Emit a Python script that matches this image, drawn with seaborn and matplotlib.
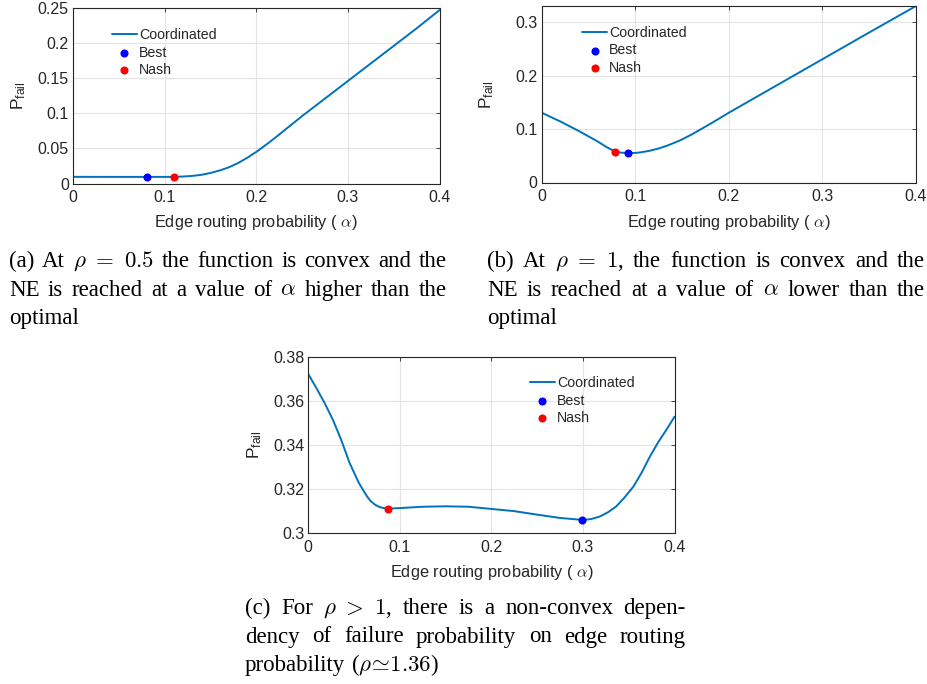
import re
import numpy as np
import pandas as pd
import matplotlib
matplotlib.use('Agg')
import matplotlib.pyplot as plt
import seaborn as sns

# ---- data ----
# (a) rho = 0.5
alpha_a = [0, 0.05, 0.1, 0.11, 0.12, 0.13, 0.14, 0.15, 0.16, 0.17, 0.18, 0.19,
           0.2, 0.21, 0.22, 0.23, 0.25, 0.275, 0.3, 0.325, 0.35, 0.375, 0.4]
pfail_a = [0.0095, 0.0094, 0.0094, 0.0095, 0.0099, 0.0108, 0.0123, 0.0150,
           0.0185, 0.0230, 0.0290, 0.0365, 0.045, 0.0545, 0.0645, 0.0750,
           0.0960, 0.121, 0.146, 0.171, 0.196, 0.221, 0.247]
best_a = (0.081, 0.0094)
nash_a = (0.110, 0.0095)

# (b) rho = 1
alpha_b = [0, 0.02, 0.04, 0.06, 0.07, 0.0786, 0.085, 0.092, 0.1, 0.105, 0.115,
           0.125, 0.135, 0.1476, 0.16, 0.18, 0.2, 0.25, 0.3, 0.35, 0.4]
pfail_b = [0.1305, 0.114, 0.096, 0.0765, 0.0655, 0.0578, 0.0558, 0.0551,
           0.0553, 0.0562, 0.0592, 0.0636, 0.0695, 0.0785, 0.0895, 0.1095,
           0.1305, 0.1805, 0.2305, 0.2805, 0.3300]
best_b = (0.0918, 0.0551)
nash_b = (0.0786, 0.0578)

# (c) rho ~ 1.36
alpha_c = [0, 0.009, 0.018, 0.027, 0.036, 0.045, 0.055, 0.06, 0.064, 0.068,
           0.073, 0.077, 0.082, 0.091, 0.1, 0.125, 0.15, 0.175, 0.2, 0.225,
           0.25, 0.275, 0.3, 0.309, 0.318, 0.327, 0.336, 0.345, 0.355, 0.364,
           0.373, 0.382, 0.391, 0.4]
pfail_c = [0.3721, 0.3656, 0.3588, 0.3512, 0.3421, 0.3318, 0.3228, 0.3193,
           0.3166, 0.3144, 0.3127, 0.3118, 0.3112, 0.3110, 0.3112, 0.3118,
           0.3120, 0.3118, 0.3108, 0.3098, 0.3082, 0.3067, 0.3058, 0.3062,
           0.3073, 0.3092, 0.3118, 0.3158, 0.3209, 0.3272, 0.3345, 0.3410,
           0.3467, 0.3527]
best_c = (0.2985, 0.3058)
nash_c = (0.0873, 0.3110)

xticks = [0, 0.1, 0.2, 0.3, 0.4]
yticks_a = [0, 0.05, 0.1, 0.15, 0.2, 0.25]
yticks_b = [0, 0.1, 0.2, 0.3]
yticks_c = [0.3, 0.32, 0.34, 0.36, 0.38]

captions = {
    'a': [r'(a) At $\rho\ =\ 0.5$ the function is convex and the',
          r'NE is reached at a value of $\alpha$ higher than the',
          r'optimal'],
    'b': [r'(b) At $\rho\ =\ 1$, the function is convex and the',
          r'NE is reached at a value of $\alpha$ lower than the',
          r'optimal'],
    'c': [r'(c) For $\rho\ >\ 1$, there is a non-convex depen-',
          r'dency of failure probability on edge routing',
          r'probability ($\rho\!\simeq\!1.36$)'],
}

sns.set_theme(style='white')
plt.rcParams['font.family'] = ['Liberation Sans', 'DejaVu Sans']
plt.rcParams['mathtext.fontset'] = 'cm'

W, H = 927, 684
fig = plt.figure(figsize=(W / 100, H / 100), dpi=100)
dark = '#262626'


def px_axes(left, right, top, bottom):
    return fig.add_axes([left / W, 1 - bottom / H, (right - left) / W, (bottom - top) / H])


def draw_panel(ax, alpha, pfail, best, nash, yticks, ylim, leg_xy):
    df = pd.DataFrame({'alpha': alpha, 'pfail': pfail})
    sns.lineplot(data=df, x='alpha', y='pfail', ax=ax, color='#0072BD',
                 linewidth=1.4, label='Coordinated')
    sns.scatterplot(x=[best[0]], y=[best[1]], ax=ax, color='#0000FF', s=34,
                    linewidth=0, label='Best', zorder=5)
    sns.scatterplot(x=[nash[0]], y=[nash[1]], ax=ax, color='#FF0000', s=34,
                    linewidth=0, label='Nash', zorder=5)
    ax.set_xlim(0, 0.4)
    ax.set_ylim(*ylim)
    ax.set_xticks(xticks)
    ax.set_yticks(yticks)
    ax.set_xticklabels(['%g' % v for v in xticks])
    ax.set_yticklabels(['%g' % v for v in yticks])
    ax.grid(True, color='#e3e3e3', linewidth=0.8)
    ax.set_axisbelow(True)
    for sp in ax.spines.values():
        sp.set_color(dark)
        sp.set_linewidth(0.8)
    ax.tick_params(axis='both', direction='in', top=True, right=True, length=3,
                   width=0.6, color=dark, labelsize=11.5, labelcolor=dark)
    ax.tick_params(axis='x', pad=5)
    ax.tick_params(axis='y', pad=3)
    ax.set_xlabel(r'Edge routing probability ( $\alpha$)', fontsize=11.8, color=dark)
    ax.set_ylabel(r'$\mathregular{P_{fail}}$', fontsize=12.5, color=dark)
    ax.xaxis.set_label_coords(0.5, -0.17)
    ax.yaxis.set_label_coords(-0.122, 0.5)
    ax.legend(loc='upper left', bbox_to_anchor=leg_xy, frameon=False,
              fontsize=10.2, handlelength=1.75, handletextpad=0.15,
              labelspacing=0.25, borderpad=0, borderaxespad=0)


ax_a = px_axes(73, 439.5, 8, 183.5)
draw_panel(ax_a, alpha_a, pfail_a, best_a, nash_a, yticks_a, (0, 0.25), (0.106, 0.886))
ax_b = px_axes(541.7, 916, 6, 182.5)
draw_panel(ax_b, alpha_b, pfail_b, best_b, nash_b, yticks_b, (0, 0.33), (0.108, 0.887))
ax_c = px_axes(308.3, 674.5, 356.7, 532.7)
draw_panel(ax_c, alpha_c, pfail_c, best_c, nash_c, yticks_c, (0.3, 0.38), (0.605, 0.89))

# ---- captions, justified like the paper ----
renderer = fig.canvas.get_renderer()


def caption(lines, x0, x1, y0, step, size=16.5):
    for i, line in enumerate(lines):
        tokens = re.findall(r'\$[^$]*\$\S*|\S+', line)
        y = 1 - (y0 + i * step) / H
        texts = [fig.text(0, y, t, fontsize=size, family='Liberation Serif',
                          color='black', va='baseline') for t in tokens]
        widths = [t.get_window_extent(renderer).width for t in texts]
        if i < len(lines) - 1 and len(texts) > 1:
            gap = (x1 - x0 - sum(widths)) / (len(texts) - 1)
        else:
            gap = size * 0.25 * 100 / 72
        x = x0
        for t, w in zip(texts, widths):
            t.set_x(x / W)
            x += w + gap


caption(captions['a'], 9, 447, 267, 28.5)
caption(captions['b'], 487, 925, 267, 28.5)
caption(captions['c'], 245, 686, 614, 28.5)

fig.savefig('out.png', dpi=100)
